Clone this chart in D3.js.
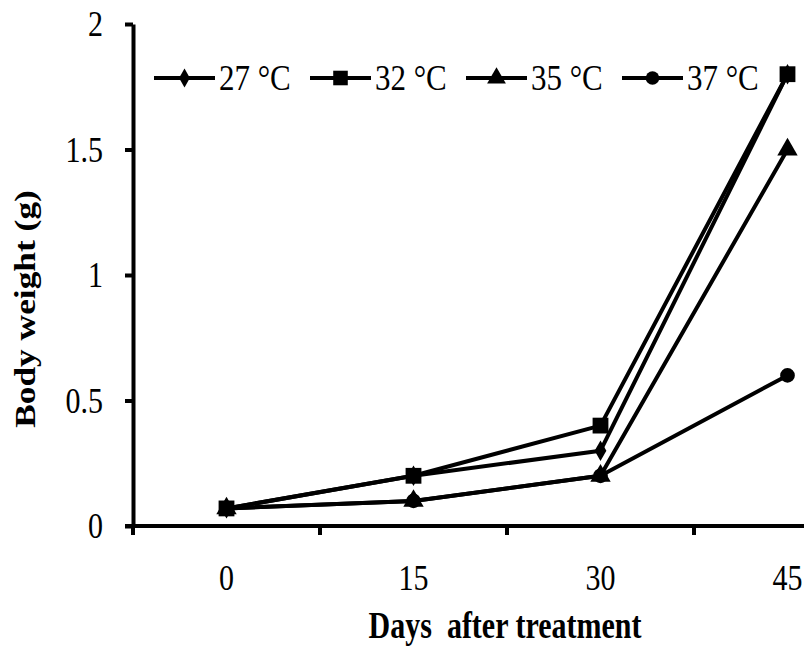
<!DOCTYPE html>
<html>
<head>
<meta charset="utf-8">
<script src="https://cdn.jsdelivr.net/npm/d3@7"></script>
<style>
  html, body { margin: 0; padding: 0; background: #fff; }
  svg { display: block; }
  text { font-family: "Liberation Serif", "Times New Roman", serif; fill: #000; }
</style>
</head>
<body>
<div class="chart"></div>
<script>
// data
const days = ["0", "15", "30", "45"];
const yTicks = [0, 0.5, 1, 1.5, 2];
const seriesNames = ["27 °C", "32 °C", "35 °C", "37 °C"];
const temp27 = [0.07, 0.2, 0.3, 1.8];
const temp32 = [0.07, 0.2, 0.4, 1.8];
const temp35 = [0.07, 0.1, 0.2, 1.5];
const temp37 = [0.07, 0.1, 0.2, 0.6];

const seriesValues = [temp27, temp32, temp35, temp37];
const symbols = [d3.symbolDiamond, d3.symbolSquare, d3.symbolTriangle, d3.symbolCircle];
const symbolSizes = [120, 250, 180, 170];

const width = 804, height = 648;
const margin = { top: 24, left: 133, bottom: 122 };
const bandW = 187;

const svg = d3.select('.chart').append('svg')
    .attr('width', width)
    .attr('height', height);

svg.append('rect').attr('width', width).attr('height', height).attr('fill', '#fff');

const x = d3.scaleBand()
    .domain(days)
    .range([margin.left, margin.left + bandW * days.length])
    .padding(0);

const y = d3.scaleLinear()
    .domain([0, 2])
    .range([height - margin.bottom, margin.top]);

// text looks stretched vertically in the original
function stretched(parent, px, py, str, size, sy, anchor, bold) {
    return parent.append('text')
        .attr('transform', `translate(${px},${py}) scale(1,${sy})`)
        .attr('text-anchor', anchor)
        .attr('font-size', size + 'px')
        .attr('font-weight', bold ? 'bold' : 'normal')
        .text(str);
}

// y axis
const yAxis = svg.append('g')
    .attr('transform', `translate(${margin.left},0)`)
    .call(d3.axisLeft(y).tickValues(yTicks).tickSize(8).tickSizeOuter(0).tickFormat(''));
yAxis.select('.domain').attr('stroke', '#000').attr('stroke-width', 4);
yAxis.selectAll('.tick line').attr('stroke', '#000').attr('stroke-width', 4);

yTicks.forEach(t => {
    stretched(svg, 103, y(t) + 12, d3.format('')(t), 30, 1.2, 'end', false);
});

// x axis, ticks between categories
const xAxis = svg.append('g')
    .attr('transform', `translate(0,${y(0)})`);
xAxis.append('line')
    .attr('x1', margin.left - 8).attr('x2', width + 20)
    .attr('stroke', '#000').attr('stroke-width', 4);
xAxis.selectAll('.xtick')
    .data(days)
    .enter()
    .append('line')
    .attr('class', 'xtick')
    .attr('x1', d => x(d)).attr('x2', d => x(d))
    .attr('y1', 0).attr('y2', 9)
    .attr('stroke', '#000').attr('stroke-width', 4);

days.forEach(d => {
    stretched(svg, x(d) + x.bandwidth() / 2, 590, d, 30, 1.2, 'middle', false);
});

// axis titles
stretched(svg, 505, 638, 'Days  after treatment', 30, 1.25, 'middle', true)
    .style('white-space', 'pre');

svg.append('text')
    .attr('transform', 'translate(35,309) scale(1,1.22) rotate(-90)')
    .attr('text-anchor', 'middle')
    .attr('font-size', '29px')
    .attr('font-weight', 'bold')
    .text('Body weight (g)');

// lines
const line = d3.line()
    .x((d, i) => x(days[i]) + x.bandwidth() / 2)
    .y(d => y(d));

seriesValues.forEach(vals => {
    svg.append('path')
        .datum(vals)
        .attr('d', line)
        .attr('fill', 'none')
        .attr('stroke', '#000')
        .attr('stroke-width', 4)
        .attr('stroke-linejoin', 'round');
});

// markers, squares drawn last so they sit on top
[0, 2, 3, 1].forEach(s => {
    svg.append('g')
        .selectAll('path')
        .data(seriesValues[s])
        .enter()
        .append('path')
        .attr('transform', (d, i) => `translate(${x(days[i]) + x.bandwidth() / 2},${y(d)})`)
        .attr('d', d3.symbol().type(symbols[s]).size(symbolSizes[s]))
        .attr('fill', '#000');
});

// legend
const legend = svg.append('g')
    .selectAll('g')
    .data(seriesNames)
    .enter()
    .append('g')
    .attr('transform', (d, i) => `translate(${154 + i * 156},78)`);

legend.append('line')
    .attr('x1', 0).attr('x2', 61)
    .attr('stroke', '#000').attr('stroke-width', 4);

legend.append('path')
    .attr('transform', 'translate(30.5,0)')
    .attr('d', (d, i) => d3.symbol().type(symbols[i]).size(symbolSizes[i] * 0.85)());

legend.each(function (d) {
    stretched(d3.select(this), 65, 12, d, 31, 1.15, 'start', false);
});
</script>
</body>
</html>
